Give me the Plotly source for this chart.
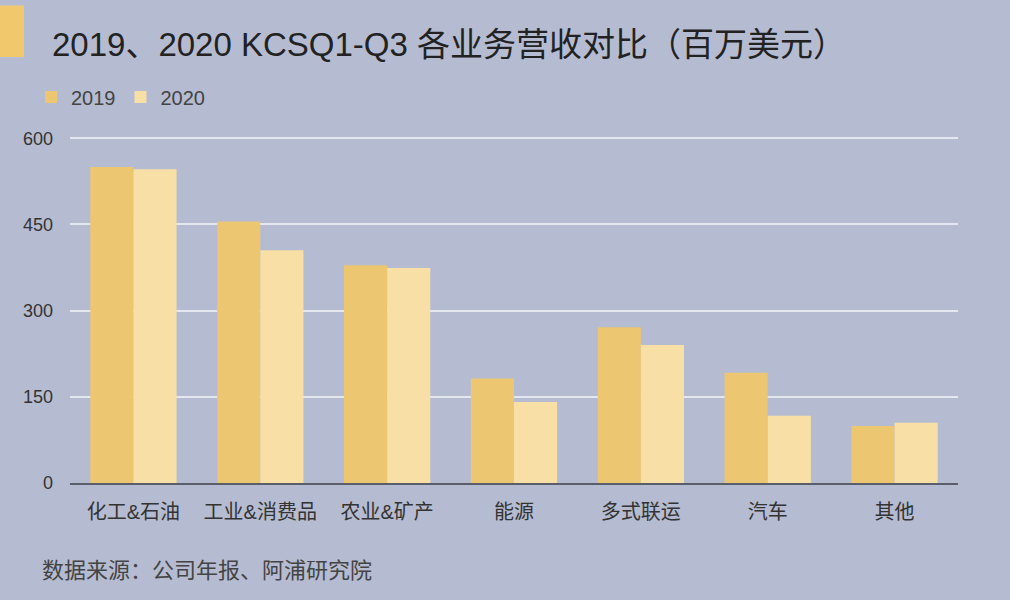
import plotly.graph_objects as go

categories = ["化工&石油", "工业&消费品", "农业&矿产", "能源", "多式联运", "汽车", "其他"]
values_2019 = [550, 455, 379, 182, 271, 192, 99]
values_2020 = [546, 405, 374, 141, 240, 117, 105]
y_ticks = [0, 150, 300, 450, 600]

FONT = "Liberation Sans, Noto Sans CJK SC, sans-serif"
BG = "#b5bcd1"

fig = go.Figure()
fig.add_trace(go.Bar(x=categories, y=values_2019, name="2019", marker=dict(color="#ecc670", line=dict(width=0))))
fig.add_trace(go.Bar(x=categories, y=values_2020, name="2020", marker=dict(color="#f8dfa6", line=dict(width=0))))

W, H = 1010, 600
L, R, T, B = 70, 52, 133, 117
pw, ph = W - L - R, H - T - B

def px_x(p):
    return (p - L) / pw

def px_y(p):
    return (H - B - p) / ph

fig.update_layout(
    width=W, height=H,
    margin=dict(l=L, r=R, t=T, b=B),
    paper_bgcolor=BG, plot_bgcolor=BG,
    barmode="group", bargap=0.32, bargroupgap=0,
    font=dict(family=FONT, color="#333333"),
    title=dict(text="2019、2020 KCSQ1-Q3 各业务营收对比（百万美元）",
               x=52 / W, xref="container", xanchor="left",
               y=1 - 44 / H, yref="container", yanchor="middle",
               font=dict(size=33, color="#222222", family=FONT)),
    legend=dict(orientation="h", x=31 / W, xref="container", xanchor="left",
                y=1 - 97 / H, yref="container", yanchor="middle",
                font=dict(size=20, color="#444444"),
                bgcolor="rgba(0,0,0,0)", traceorder="normal"),
    showlegend=True,
)
fig.update_xaxes(showgrid=False, showline=True, linecolor="#5a5e6a", linewidth=2,
                 tickfont=dict(size=20, color="#333333"), ticks="", ticklabelstandoff=10)
fig.update_yaxes(range=[0, 602], tickvals=y_ticks, showgrid=True, gridcolor="#e4e7f0", gridwidth=2,
                 zeroline=False, showline=False, tickfont=dict(size=18, color="#333333"),
                 ticks="", ticklabelstandoff=16)

fig.add_shape(type="rect", xref="paper", yref="paper",
              x0=px_x(0), x1=px_x(24), y0=px_y(52), y1=px_y(0),
              fillcolor="#f1c96c", line=dict(width=0), layer="above")
fig.add_annotation(text="数据来源：公司年报、阿浦研究院", xref="paper", yref="paper",
                   x=px_x(40), y=px_y(572), xanchor="left", yanchor="middle",
                   showarrow=False, font=dict(size=22, color="#444444", family=FONT))

fig.write_html("out.html", config={"displayModeBar": False},
               post_script="document.body.style.margin='0';document.body.style.padding='0';document.body.style.background='" + BG + "';")
